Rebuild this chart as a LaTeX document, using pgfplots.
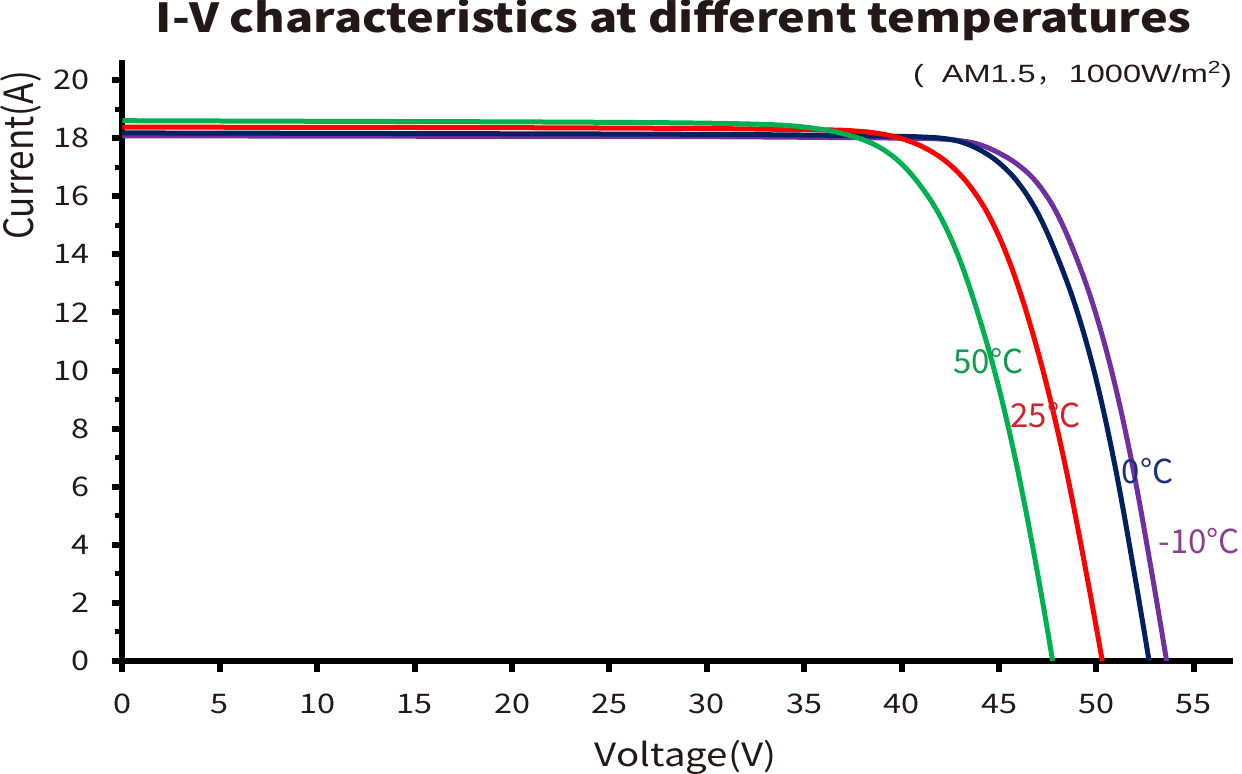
\documentclass[border=0pt]{standalone}
\usepackage{pgfplots}
\pgfplotsset{compat=1.18}
\usepackage{pgfplotstable}
\usepackage{graphicx}
\usepackage{fontspec}
\setmainfont{Noto Sans CJK SC}
\newfontfamily\cjk{Noto Sans CJK SC}
\newfontfamily\widefont{Noto Sans CJK SC}[FakeStretch=1.2]
\newfontfamily\annfont{Liberation Sans}[FakeStretch=1.3]
\newfontfamily\titlefont{Noto Sans CJK SC}[FakeStretch=1.168]
\definecolor{cgreen}{HTML}{00B050}
\definecolor{cred}{HTML}{FF0000}
\definecolor{cnavy}{HTML}{002060}
\definecolor{cpurple}{HTML}{7030A0}
\definecolor{lgreen}{HTML}{0F9A4E}
\definecolor{lred}{HTML}{D2232A}
\definecolor{lnavy}{HTML}{1E2E7E}
\definecolor{lpurple}{HTML}{8B3F8F}
\definecolor{txt}{HTML}{231815}

% 50 C
\pgfplotstableread{
v i
0 18.60
10 18.58
20 18.56
28 18.53
32 18.49
34 18.44
35 18.38
36 18.29
37 18.15
38 17.95
39 17.63
40 17.11
41 16.33
42 15.28
43 13.78
44 11.78
45 9.38
46 6.43
47 2.93
47.75 0
}\tgreen

% 25 C
\pgfplotstableread{
v i
0 18.38
10 18.37
20 18.36
30 18.33
34 18.30
36.5 18.28
37.5 18.25
38.5 18.19
39.5 18.07
40.5 17.87
41.5 17.55
42.5 17.07
43.5 16.35
44.5 15.30
45.5 13.80
46.5 11.80
47.5 9.35
48.5 6.40
49.5 2.95
50.3 0
}\tred

% 0 C
\pgfplotstableread{
v i
0 18.18
20 18.15
30 18.13
36 18.10
40 18.06
41 18.04
42 18.00
43 17.88
44 17.60
45 17.15
46 16.45
47 15.40
48 13.90
49 12.05
50 9.65
51 6.55
52 2.80
52.7 0
}\tnavy

% -10 C
\pgfplotstableread{
v i
0 18.08
20 18.06
30 18.05
40 18.00
42 17.97
42.9 17.92
43.9 17.80
44.9 17.52
45.9 17.12
46.9 16.50
47.9 15.50
48.9 14.00
49.9 12.10
50.9 9.65
51.9 6.55
52.9 2.80
53.6 0
}\tpurple

\begin{document}
\begin{tikzpicture}
\useasboundingbox (-122.5bp,-113bp) rectangle (1119.5bp,661bp);
\begin{axis}[
  scale only axis,
  width=1110.4bp, height=601bp,
  xmin=0, xmax=57, ymin=0, ymax=20.69,
  axis lines*=left,
  axis line style={line width=6bp, -, black},
  tick style={line width=6bp, black},
  minor tick style={line width=5bp, black},
  tick align=outside,
  major tick length=10.5bp, minor tick length=7bp,
  xtick={0,5,...,55}, ytick={0,2,...,20},
  minor ytick={1,3,...,19},
  /pgf/number format/assume math mode=true,
  ticklabel style={font=\widefont\fontsize{27bp}{30bp}\selectfont, text=txt},
  xticklabel style={anchor=base, inner sep=0pt, yshift=-42bp},
  yticklabel style={anchor=east, inner sep=0pt, xshift=-22bp},
  clip=false,
]
\addplot[cpurple, line width=5bp, smooth, tension=0.6] table {\tpurple};
\addplot[cnavy, line width=5bp, smooth, tension=0.6] table {\tnavy};
\addplot[cred, line width=5bp, smooth, tension=0.6] table {\tred};
\addplot[cgreen, line width=5bp, smooth, tension=0.6] table {\tgreen};

\node[anchor=base, text=txt, font=\titlefont\bfseries\fontsize{40bp}{44bp}\selectfont] at (axis cs:28.3,21.62) {I-V characteristics at different temperatures};
\node[anchor=base, text=txt, font=\widefont\fontsize{32bp}{34bp}\selectfont] at (axis cs:28.9,-3.62) {Voltage(V)};
\node[anchor=base, rotate=90, text=txt, font=\fontsize{35bp}{38bp}\selectfont] at (axis cs:-4.59,17.4) {\scalebox{1}[1.15]{Current(A)}};
\node[anchor=base east, inner sep=0pt, text=txt, font=\annfont\fontsize{25bp}{27bp}\selectfont] at (axis cs:56.96,19.93) {(\hspace{18bp}AM1.5\hspace{2bp}{\cjk ，}\hspace{6bp}1000W/m\textsuperscript{2})};

\node[text=lgreen, inner sep=0pt, font=\fontsize{33bp}{35bp}\selectfont] at (axis cs:44.46,10.34) {50°C};
\node[text=lred, inner sep=0pt, font=\fontsize{33bp}{35bp}\selectfont] at (axis cs:47.38,8.45) {25°C};
\node[text=lnavy, inner sep=0pt, font=\fontsize{33bp}{35bp}\selectfont] at (axis cs:52.62,6.55) {0°C};
\node[text=lpurple, inner sep=0pt, font=\fontsize{33bp}{35bp}\selectfont] at (axis cs:55.28,4.14) {-10°C};
\end{axis}
\end{tikzpicture}
\end{document}
